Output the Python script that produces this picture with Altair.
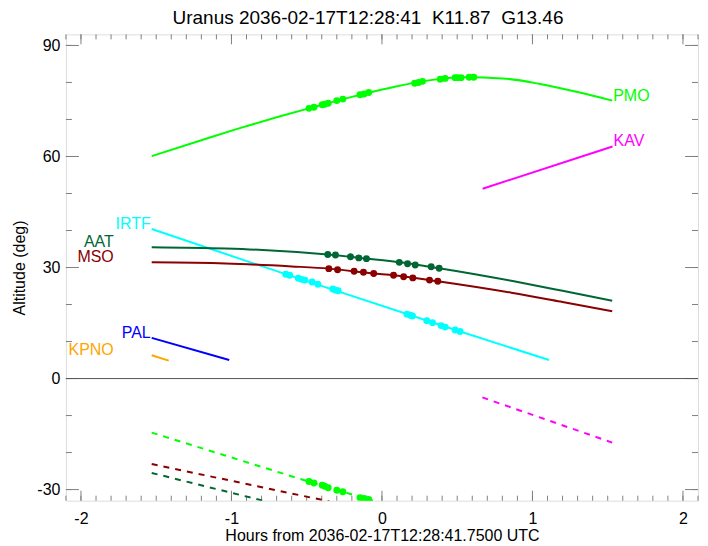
import altair as alt
import pandas as pd

# ---------------- data ----------------
stations = ["PMO", "KAV", "IRTF", "AAT", "MSO", "PAL", "KPNO"]
colors = ["#00ff00", "#ff00ff", "#00ffff", "#006633", "#8b0000", "#0000ff", "#ffa500"]

pmo_h = [-1.53, -1.2, -0.95, -0.7, -0.45, -0.2, 0.05, 0.3, 0.55, 0.8, 1.05, 1.3, 1.53]
pmo_alt = [60.1, 64.4, 67.6, 70.6, 73.4, 76.1, 78.5, 80.5, 81.4, 81.1, 79.6, 77.4, 75.1]
kav_h = [0.669, 1.532]
kav_alt = [51.3, 62.7]
irtf_h = [-1.53, -0.64, 0.52, 1.11]
irtf_alt = [40.4, 28.2, 12.7, 5.0]
aat_h = [-1.53, -1.04, -0.82, -0.36, -0.1, 0.12, 0.38, 0.86, 1.2, 1.53]
aat_alt = [35.5, 35.15, 34.8, 33.5, 32.4, 31.4, 29.8, 26.4, 23.7, 21.0]
mso_h = [-1.53, -1.04, -0.6, -0.35, -0.06, 0.08, 0.37, 0.86, 1.2, 1.53]
mso_alt = [31.4, 31.1, 30.3, 29.7, 28.4, 27.9, 26.3, 23.2, 20.7, 18.2]
pal_h = [-1.53, -1.015]
pal_alt = [11.0, 5.0]
kpno_h = [-1.53, -1.417]
kpno_alt = [6.3, 4.85]

# dashed (below-horizon) tracks
pmo_d_h = [-1.53, -0.49, -0.06]
pmo_d_alt = [-14.6, -27.8, -33.0]
mso_d_h = [-1.53, -0.35]
mso_d_alt = [-23.1, -33.2]
aat_d_h = [-1.53, -0.77]
aat_d_alt = [-25.5, -33.2]
kav_d_h = [0.667, 1.53]
kav_d_alt = [-5.1, -17.3]

# observation dots
pmo_dot_h = [-0.485, -0.452, -0.397, -0.38, -0.357, -0.30, -0.26, -0.146, -0.119, -0.088,
             0.217, 0.243, 0.27, 0.387, 0.42, 0.486, 0.503, 0.526, 0.579, 0.61]
pmo_dot_alt = [73.0, 73.3, 74.0, 74.1, 74.4, 75.1, 75.5, 76.7, 76.9, 77.3,
               79.8, 80.0, 80.3, 80.9, 81.1, 81.3, 81.3, 81.3, 81.4, 81.4]
pmo_low_dot_h = [-0.485, -0.452, -0.397, -0.38, -0.357, -0.30, -0.26, -0.146, -0.119, -0.088]
pmo_low_dot_alt = [-27.8, -28.2, -28.8, -29.1, -29.5, -30.2, -30.6, -32.2, -32.4, -32.7]
irtf_dot_h = [-0.64, -0.613, -0.556, -0.534, -0.512, -0.464, -0.426, -0.327, -0.31, -0.291,
              0.166, 0.188, 0.203, 0.298, 0.336, 0.393, 0.42, 0.486, 0.519]
irtf_dot_alt = [28.2, 27.9, 27.1, 26.8, 26.6, 26.1, 25.5, 24.2, 23.9, 23.7,
                17.4, 17.1, 16.9, 15.6, 15.1, 14.3, 13.9, 13.1, 12.7]
aat_dot_h = [-0.36, -0.309, -0.209, -0.154, -0.103, 0.115, 0.17, 0.221, 0.327, 0.38]
aat_dot_alt = [33.5, 33.4, 32.9, 32.6, 32.4, 31.4, 31.0, 30.7, 30.2, 29.8]
mso_dot_h = [-0.353, -0.295, -0.185, -0.123, -0.055, 0.077, 0.144, 0.205, 0.316, 0.371]
mso_dot_alt = [29.7, 29.4, 29.0, 28.7, 28.4, 27.9, 27.5, 27.2, 26.6, 26.3]

x_major = [-2, -1, 0, 1, 2]
x_minor = [round(-2.1 + 0.1 * i, 1) for i in range(43)]
y_major = [-30, 0, 30, 60, 90]
y_minor = [-30, -20, -10, 0, 10, 20, 30, 40, 50, 60, 70, 80, 90]

NB = "\u00a0"
title_text = "Uranus 2036-02-17T12:28:41" + NB * 2 + "K11.87" + NB * 2 + "G13.46"
x_title = "Hours from 2036-02-17T12:28:41.7500 UTC"
y_title = "Altitude (deg)"

# ---------------- tables ----------------
def track(name, hs, alts):
    return pd.DataFrame({"station": name, "h": hs, "alt": alts, "i": range(len(hs))})

solid = pd.concat([
    track("PMO", pmo_h, pmo_alt), track("KAV", kav_h, kav_alt),
    track("IRTF", irtf_h, irtf_alt), track("AAT", aat_h, aat_alt),
    track("MSO", mso_h, mso_alt), track("PAL", pal_h, pal_alt),
    track("KPNO", kpno_h, kpno_alt)])
dashed = pd.concat([
    track("PMO", pmo_d_h, pmo_d_alt), track("MSO", mso_d_h, mso_d_alt),
    track("AAT", aat_d_h, aat_d_alt), track("KAV", kav_d_h, kav_d_alt)])
dots = pd.concat([
    track("PMO", pmo_dot_h, pmo_dot_alt), track("PMO", pmo_low_dot_h, pmo_low_dot_alt),
    track("IRTF", irtf_dot_h, irtf_dot_alt), track("AAT", aat_dot_h, aat_dot_alt),
    track("MSO", mso_dot_h, mso_dot_alt)])

starts = {s: (df.h.iloc[0], df.alt.iloc[0]) for s, df in solid.groupby("station")}
ends = {s: (df.h.iloc[-1], df.alt.iloc[-1]) for s, df in solid.groupby("station")}
near_labels = pd.DataFrame([{"station": s, "h": starts[s][0], "alt": starts[s][1]} for s in ["IRTF", "PAL"]])
far_labels = pd.DataFrame([{"station": s, "h": starts[s][0], "alt": starts[s][1]} for s in ["AAT", "MSO", "KPNO"]])
right_labels = pd.DataFrame([{"station": s, "h": ends[s][0], "alt": ends[s][1]} for s in ["PMO", "KAV"]])

W, H = 633, 467
AX = "#7f7f7f"
FONT = "Liberation Sans"

xscale = alt.Scale(domain=[-2.1, 2.1], nice=False, zero=False)
yscale = alt.Scale(domain=[-33, 93], nice=False, zero=False)
xaxis = alt.Axis(values=x_major, ticks=False, domain=False, grid=False, title=x_title,
                 labelFontSize=16, labelPadding=10, labelFont=FONT, labelColor="black",
                 labelExpr="toString(datum.value)",
                 titleFont=FONT, titleFontSize=16, titleFontWeight="normal", titleColor="black",
                 titleY=35, titleBaseline="middle")
yaxis = alt.Axis(values=y_major, ticks=False, domain=False, grid=False, title=y_title,
                 labelFontSize=16, labelPadding=6, labelFont=FONT, labelColor="black",
                 labelExpr="toString(datum.value)",
                 titleFont=FONT, titleFontSize=16, titleFontWeight="normal", titleColor="black",
                 titleX=-46, titleY=H / 2, titleAngle=-90, titleBaseline="middle", titleAlign="center")

X = lambda: alt.X("h:Q", scale=xscale, axis=xaxis)
Y = lambda: alt.Y("alt:Q", scale=yscale, axis=yaxis)
C = alt.Color("station:N", scale=alt.Scale(domain=stations, range=colors), legend=None)

lines = alt.Chart(solid).mark_line(strokeWidth=2, clip=True, interpolate="monotone").encode(
    x=X(), y=Y(), color=C, detail="station:N", order="i:Q")
dlines = alt.Chart(dashed).mark_line(strokeWidth=2, strokeDash=[6, 6], clip=True).encode(
    x=X(), y=Y(), color=C, detail="station:N", order="i:Q")
pts = alt.Chart(dots).mark_circle(size=48, opacity=1, clip=True).encode(x=X(), y=Y(), color=C)

lab_kw = dict(fontSize=16, font=FONT, baseline="alphabetic")
lab_near = alt.Chart(near_labels).mark_text(align="right", dx=-1, **lab_kw).encode(
    x=X(), y=Y(), text="station:N", color=C)
lab_far = alt.Chart(far_labels).mark_text(align="right", dx=-38, **lab_kw).encode(
    x=X(), y=Y(), text="station:N", color=C)
lab_right = alt.Chart(right_labels).mark_text(align="left", dx=1, **lab_kw).encode(
    x=X(), y=Y(), text="station:N", color=C)

zero = alt.Chart(pd.DataFrame({"alt": [0]})).mark_rule(color="#555555", strokeWidth=1).encode(
    y=Y(), x=alt.value(0), x2=alt.value(W))

def xt(vals, y0, y1):
    return alt.Chart(pd.DataFrame({"h": vals})).mark_rule(color=AX, strokeWidth=1).encode(
        x=X(), y=alt.value(y0), y2=alt.value(y1))

def yt(vals, x0, x1):
    return alt.Chart(pd.DataFrame({"alt": vals})).mark_rule(color=AX, strokeWidth=1).encode(
        y=Y(), x=alt.value(x0), x2=alt.value(x1))

ticks = [xt(x_minor, H, H - 5), xt(x_minor, 0, 5), xt(x_major, H, H - 10), xt(x_major, 0, 10),
         yt(y_minor, 0, 6), yt(y_minor, W, W - 6), yt(y_major, 0, 13), yt(y_major, W, W - 13)]

chart = alt.layer(*ticks, zero, dlines, lines, pts, lab_near, lab_far, lab_right).properties(
    width=W, height=H,
    title=alt.TitleParams(title_text, font=FONT, fontSize=19, fontWeight="normal", color="black",
                          anchor="middle", dx=-14, offset=6),
    autosize=alt.AutoSizeParams(type="none"),
    padding={"left": 58, "top": 26, "right": 2, "bottom": 50},
).configure_view(stroke=AX, strokeWidth=1).configure(background="white")

chart.save("out.html", embed_options={"renderer": "svg", "actions": False})
